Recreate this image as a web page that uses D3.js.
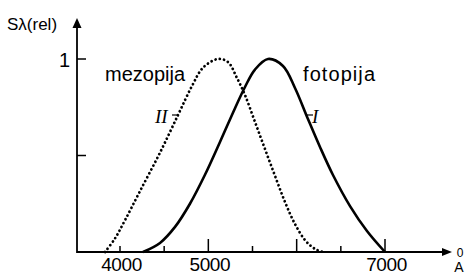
<!DOCTYPE html>
<html><head><meta charset="utf-8">
<script src="https://cdn.jsdelivr.net/npm/d3@7"></script>
<style>body{margin:0;background:#fff}svg{display:block}</style>
</head><body><svg id="c" width="470" height="275"></svg>
<script>
// Photopic curve (I, "fotopija"), wavelength in Å, relative sensitivity
const photopicWl  = [4260,4453,4623,4792,4962,5132,5302,5415,5528,5675,5845,5981,6128,6264,6411,6604,6796,7000];
const photopicVal = [0,0.047,0.13,0.25,0.40,0.57,0.745,0.855,0.945,1.0,0.964,0.850,0.689,0.544,0.399,0.238,0.109,0];
// Mesopic curve (II, "mezopija")
const mesopicWl  = [3830,3943,4057,4226,4453,4657,4815,4940,5109,5223,5324,5415,5528,5641,5755,5868,5981,6094,6207,6298];
const mesopicVal = [0,0.07,0.165,0.315,0.515,0.71,0.86,0.955,1.0,0.984,0.902,0.813,0.674,0.534,0.394,0.259,0.145,0.062,0.016,0];
const xTicks = [4000,4500,5000,5500,6000,6500,7000];
const xMajor = [5000,6000,7000];
const xTickLabels = ["4000","5000","7000"];
const yTicks = [0.5,1];
const yTickLabels = ["1"];

const svg = d3.select("#c");
const x0 = 77, y0 = 252, xEnd = 452, yTop = 18;
const x = d3.scaleLinear().domain([4000,7000]).range([120,385]);
const y = d3.scaleLinear().domain([0,1]).range([y0,59]);
const sans = "Liberation Sans, Arial, sans-serif";
const serif = "Liberation Serif, Times New Roman, serif";
const ink = "#000";

// axes
svg.append("line").attr("x1",x0).attr("x2",xEnd-6).attr("y1",y0).attr("y2",y0).attr("stroke",ink).attr("stroke-width",1.8);
svg.append("line").attr("x1",x0).attr("x2",x0).attr("y1",y0+0.9).attr("y2",yTop+6).attr("stroke",ink).attr("stroke-width",1.8);
svg.append("path").attr("d",`M${xEnd},${y0} L${xEnd-10},${y0-4} L${xEnd-10},${y0+4} Z`).attr("fill",ink);
svg.append("path").attr("d",`M${x0},${yTop} L${x0-4.5},${yTop+10} L${x0+4.5},${yTop+10} Z`).attr("fill",ink);

// x ticks
svg.selectAll(".xt").data(xTicks).join("line")
  .attr("x1",d=>x(d)).attr("x2",d=>x(d))
  .attr("y1",y0).attr("y2",d=>xMajor.includes(d)?y0-13:y0-6)
  .attr("stroke",ink).attr("stroke-width",1.5);
svg.selectAll(".xl").data(xTickLabels).join("text")
  .attr("x",d=>x(+d)+1.5).attr("y",271)
  .attr("text-anchor","middle").attr("font-family",sans)
  .attr("font-size",19).attr("letter-spacing",-0.4).text(d=>d);

// y ticks
svg.selectAll(".yt").data(yTicks).join("line")
  .attr("x1",x0).attr("x2",x0+9).attr("y1",d=>y(d)).attr("y2",d=>y(d))
  .attr("stroke",ink).attr("stroke-width",1.5);
svg.selectAll(".yl").data(yTickLabels).join("text")
  .attr("x",x0-7).attr("y",d=>y(+d)+8)
  .attr("text-anchor","end").attr("font-family",sans)
  .attr("font-size",20).text(d=>d);

// axis titles
svg.append("text").attr("x",7).attr("y",30).attr("font-family",sans).attr("font-size",17).text("Sλ(rel)");
svg.append("text").attr("x",460).attr("y",257).attr("text-anchor","middle").attr("font-family",sans).attr("font-size",12).text("0");
svg.append("text").attr("x",459).attr("y",272).attr("text-anchor","middle").attr("font-family",sans).attr("font-size",14).text("A");

// curves
const line = d3.line().x(d=>x(d[0])).y(d=>y(d[1])).curve(d3.curveCatmullRom.alpha(0.5));
svg.append("path").datum(d3.zip(photopicWl,photopicVal)).attr("d",line)
  .attr("fill","none").attr("stroke",ink).attr("stroke-width",2.6);
svg.append("path").datum(d3.zip(mesopicWl,mesopicVal)).attr("d",line)
  .attr("fill","none").attr("stroke",ink).attr("stroke-width",2.8)
  .attr("stroke-linecap","round").attr("stroke-dasharray","0.01 4.3");

// curve labels
svg.append("text").attr("x",105).attr("y",81).attr("font-family",sans).attr("font-size",20).text("mezopija");
svg.append("text").attr("x",303).attr("y",81).attr("font-family",sans).attr("font-size",20).attr("textLength",72).text("fotopija");
svg.append("text").attr("x",155).attr("y",123).attr("font-family",serif)
  .attr("font-style","italic").attr("font-size",19).text("II");
svg.append("line").attr("x1",172).attr("x2",178).attr("y1",115).attr("y2",115).attr("stroke",ink).attr("stroke-width",1.2);
svg.append("text").attr("x",312).attr("y",123).attr("font-family",serif)
  .attr("font-style","italic").attr("font-size",19).text("I");
svg.append("line").attr("x1",306).attr("x2",313).attr("y1",115).attr("y2",115).attr("stroke",ink).attr("stroke-width",1.2);
</script></body></html>
